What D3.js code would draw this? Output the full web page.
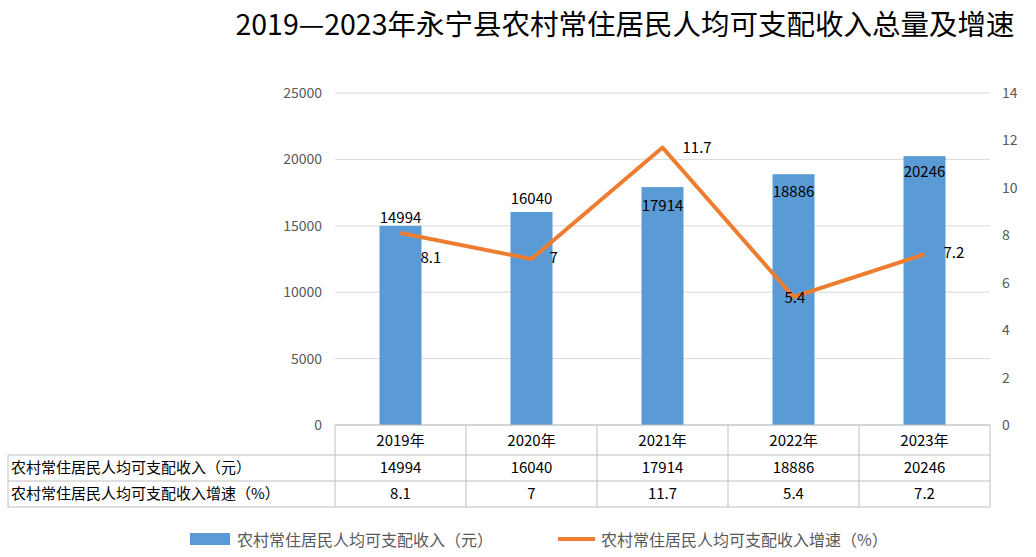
<!DOCTYPE html>
<html><head><meta charset="utf-8">
<script src="https://cdn.jsdelivr.net/npm/d3@7"></script>
<style>body{margin:0;background:#fff}text{font-family:"Noto Sans CJK SC","Noto Sans",sans-serif}</style>
</head><body>
<svg id="c" width="1036" height="557"></svg>
<script>
var years = ["2019年", "2020年", "2021年", "2022年", "2023年"];
var income = [14994, 16040, 17914, 18886, 20246];
var growth = [8.1, 7, 11.7, 5.4, 7.2];
var incomeName = "农村常住居民人均可支配收入（元）";
var growthName = "农村常住居民人均可支配收入增速（%）";
var leftTicks = [0, 5000, 10000, 15000, 20000, 25000];
var rightTicks = [0, 2, 4, 6, 8, 10, 12, 14];

var svg = d3.select("#c");
var x0 = 335, x1 = 990, yTop = 93, yBot = 425;
var x = d3.scaleBand().domain(years).range([x0, x1]);
var yL = d3.scaleLinear().domain([0, 25000]).range([yBot, yTop]);
var yR = d3.scaleLinear().domain([0, 14]).range([yBot, yTop]);
var grey = "#d9d9d9", txt = "#595959";

svg.append("text").attr("x", 625).attr("y", 35).attr("text-anchor", "middle")
  .attr("font-size", 28.5).attr("fill", "#000").text("2019—2023年永宁县农村常住居民人均可支配收入总量及增速");

leftTicks.forEach(function(t) {
  svg.append("line").attr("x1", x0).attr("x2", x1).attr("y1", yL(t)).attr("y2", yL(t)).attr("stroke", grey);
  svg.append("text").attr("x", 322).attr("y", yL(t) + 5).attr("text-anchor", "end").attr("font-size", 14).attr("fill", txt).text(t);
});
rightTicks.forEach(function(t) {
  svg.append("text").attr("x", 1002).attr("y", yR(t) + 5).attr("font-size", 14).attr("fill", txt).text(t);
});

var bw = 42;
var barLabelDy = [-3, -8, 24, 23, 21];
svg.selectAll("rect.bar").data(income).enter().append("rect")
  .attr("x", function(d, i) { return x(years[i]) + x.bandwidth() / 2 - bw / 2; })
  .attr("y", function(d) { return yL(d); }).attr("width", bw)
  .attr("height", function(d) { return yBot - yL(d); }).attr("fill", "#5b9bd5");
svg.selectAll("text.bl").data(income).enter().append("text")
  .attr("x", function(d, i) { return x(years[i]) + x.bandwidth() / 2; })
  .attr("y", function(d, i) { return yL(d) + barLabelDy[i]; }).attr("text-anchor", "middle")
  .attr("font-size", 15).attr("fill", "#000").text(function(d) { return d; });

var lineDx = [20, 18, 20, -9, 19], lineDy = [30, 4, 5, 6, 4];
var line = d3.line().x(function(d, i) { return x(years[i]) + x.bandwidth() / 2; }).y(function(d) { return yR(d); });
svg.append("path").datum(growth).attr("d", line).attr("fill", "none").attr("stroke", "#ed7d31").attr("stroke-width", 4).attr("stroke-linejoin", "round");
svg.selectAll("text.gl").data(growth).enter().append("text")
  .attr("x", function(d, i) { return x(years[i]) + x.bandwidth() / 2 + lineDx[i]; })
  .attr("y", function(d, i) { return yR(d) + lineDy[i]; })
  .attr("font-size", 15).attr("fill", "#000").text(function(d) { return d; });

// data table
[455, 481, 507].forEach(function(yy) {
  svg.append("line").attr("x1", 8).attr("x2", x1).attr("y1", yy).attr("y2", yy).attr("stroke", "#bfbfbf");
});
svg.append("line").attr("x1", 8).attr("x2", 8).attr("y1", 455).attr("y2", 507).attr("stroke", "#bfbfbf");
years.concat([null]).forEach(function(y, i) {
  var xx = i < years.length ? x(y) : x1;
  svg.append("line").attr("x1", xx).attr("x2", xx).attr("y1", yBot).attr("y2", 507).attr("stroke", "#bfbfbf");
});
svg.append("line").attr("x1", x0).attr("x2", x1).attr("y1", yBot).attr("y2", yBot).attr("stroke", "#bfbfbf");
years.forEach(function(y, i) {
  var cx = x(y) + x.bandwidth() / 2;
  svg.append("text").attr("x", cx).attr("y", 446).attr("text-anchor", "middle").attr("font-size", 15).attr("fill", "#000").text(y);
  svg.append("text").attr("x", cx).attr("y", 473).attr("text-anchor", "middle").attr("font-size", 15).attr("fill", "#000").text(income[i]);
  svg.append("text").attr("x", cx).attr("y", 499).attr("text-anchor", "middle").attr("font-size", 15).attr("fill", "#000").text(growth[i]);
});
svg.append("text").attr("x", 11).attr("y", 473).attr("font-size", 15).attr("fill", "#000").text(incomeName);
svg.append("text").attr("x", 11).attr("y", 499).attr("font-size", 15).attr("fill", "#000").text(growthName);

// legend
svg.append("rect").attr("x", 190).attr("y", 533).attr("width", 40).attr("height", 12).attr("fill", "#5b9bd5");
svg.append("text").attr("x", 237).attr("y", 546).attr("font-size", 16).attr("fill", txt).text(incomeName);
svg.append("line").attr("x1", 558).attr("x2", 595).attr("y1", 539).attr("y2", 539).attr("stroke", "#ed7d31").attr("stroke-width", 4);
svg.append("text").attr("x", 601).attr("y", 546).attr("font-size", 16).attr("fill", txt).text(growthName);
</script>
</body></html>
